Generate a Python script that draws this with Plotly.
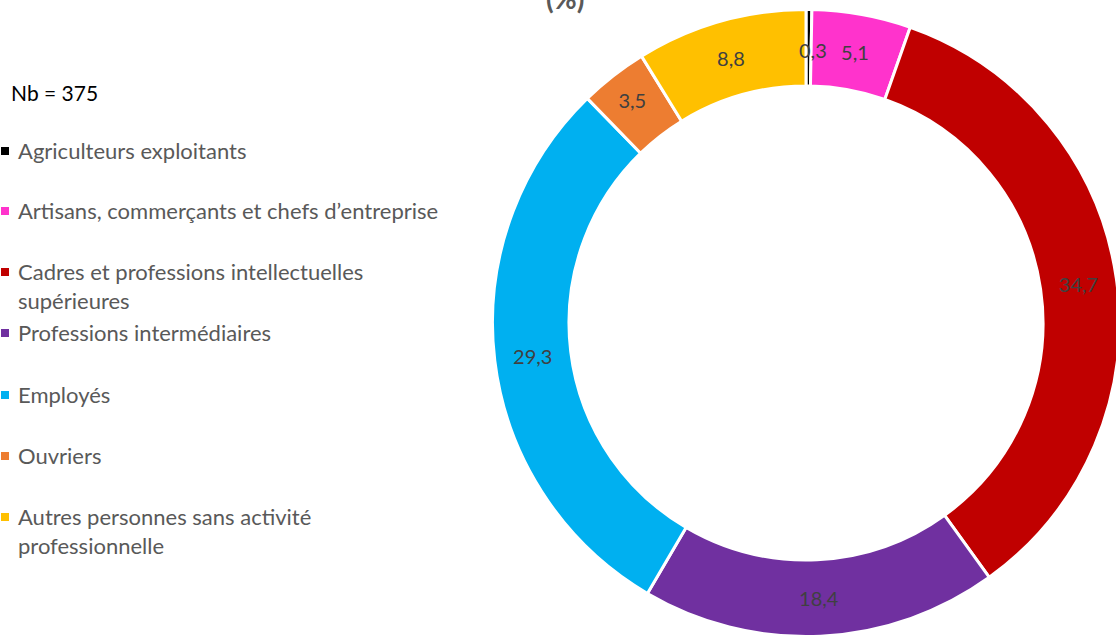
import math
import plotly.graph_objects as go

categories = [
    "Agriculteurs exploitants",
    "Artisans, commerçants et chefs d’entreprise",
    "Cadres et professions intellectuelles<br>supérieures",
    "Professions intermédiaires",
    "Employés",
    "Ouvriers",
    "Autres personnes sans activité<br>professionnelle",
]
values = [0.3, 5.1, 34.7, 18.4, 29.3, 3.5, 8.8]
labels_fr = ["0,3", "5,1", "34,7", "18,4", "29,3", "3,5", "8,8"]
colors = ["#000000", "#FF33CC", "#C00000", "#7030A0", "#00B0F0", "#ED7D31", "#FFC000"]
legend_row_y = [151, 211, 272, 333, 395, 456, 517]  # pixel centre of first line

# figure slightly larger than the 1116x636 window: the donut is cropped on the right/bottom
W, H = 1122, 640
FONT = "Lato, 'Open Sans', sans-serif"
TXT = "#595959"
HOLE = 0.756
# pie domain in pixels
PX0, PX1, PY0, PY1 = 492.5, 1119.5, 9.5, 636.5

# the tiniest slice gets its label placed as an annotation (Plotly would push it out)
inside_text = [t if v >= 1 else "" for t, v in zip(labels_fr, values)]

fig = go.Figure()
fig.add_trace(go.Pie(
    labels=categories,
    values=values,
    text=inside_text,
    textinfo="text",
    texttemplate="%{text}",
    sort=False,
    direction="clockwise",
    rotation=0,
    hole=HOLE,
    marker=dict(colors=colors, line=dict(color="white", width=3)),
    textposition="inside",
    insidetextorientation="horizontal",
    textfont=dict(family=FONT, size=20, color="#404040"),
    domain=dict(x=[PX0 / W, PX1 / W], y=[1 - PY1 / H, 1 - PY0 / H]),
    showlegend=False,
    hoverinfo="label+percent",
))

annotations = []
shapes = []

# label for small slices, at mid angle / mid radius of the slice
total = sum(values)
cx = (PX0 + PX1) / 2
cy = (PY0 + PY1) / 2
R = min(PX1 - PX0, PY1 - PY0) / 2 - 2
rmid = R * (1 + HOLE) / 2
cum = 0.0
for v, t in zip(values, labels_fr):
    if v < 1:
        ang = 2 * math.pi * (cum + v / 2) / total
        px = cx + rmid * math.sin(ang) + 4
        py = cy - rmid * math.cos(ang)
        annotations.append(dict(
            x=px / W, y=1 - py / H, xref="paper", yref="paper",
            xanchor="center", yanchor="middle", showarrow=False,
            text=t, font=dict(family=FONT, size=20, color="#404040"),
        ))
    cum += v

for name, col, yc in zip(categories, colors, legend_row_y):
    annotations.append(dict(
        x=16 / W, y=1 - (yc - 16) / H, xref="paper", yref="paper",
        xanchor="left", yanchor="top", align="left", showarrow=False,
        text=name, font=dict(family=FONT, size=22, color=TXT),
    ))
    shapes.append(dict(
        type="rect", xref="paper", yref="paper",
        x0=1 / W, x1=9 / W, y0=1 - (yc + 4) / H, y1=1 - (yc - 4) / H,
        fillcolor=col, line=dict(width=0),
    ))

annotations.append(dict(
    x=9 / W, y=1 - 92 / H, xref="paper", yref="paper",
    xanchor="left", yanchor="middle", showarrow=False,
    text="Nb = 375", font=dict(family=FONT, size=21, color="#000000"),
))
annotations.append(dict(
    x=565 / W, y=1 - 17 / H, xref="paper", yref="paper",
    xanchor="center", yanchor="bottom", showarrow=False,
    text="<b>(%)</b>", font=dict(family=FONT, size=28, color=TXT),
))

fig.update_layout(
    width=W, height=H,
    margin=dict(l=0, r=0, t=0, b=0),
    paper_bgcolor="white", plot_bgcolor="white",
    uniformtext=dict(minsize=20, mode="show"),
    annotations=annotations,
    shapes=shapes,
)

fig.write_html(
    "out.html",
    config={"displayModeBar": False},
    post_script="document.body.style.margin='0px'; document.body.style.overflow='hidden';",
)
